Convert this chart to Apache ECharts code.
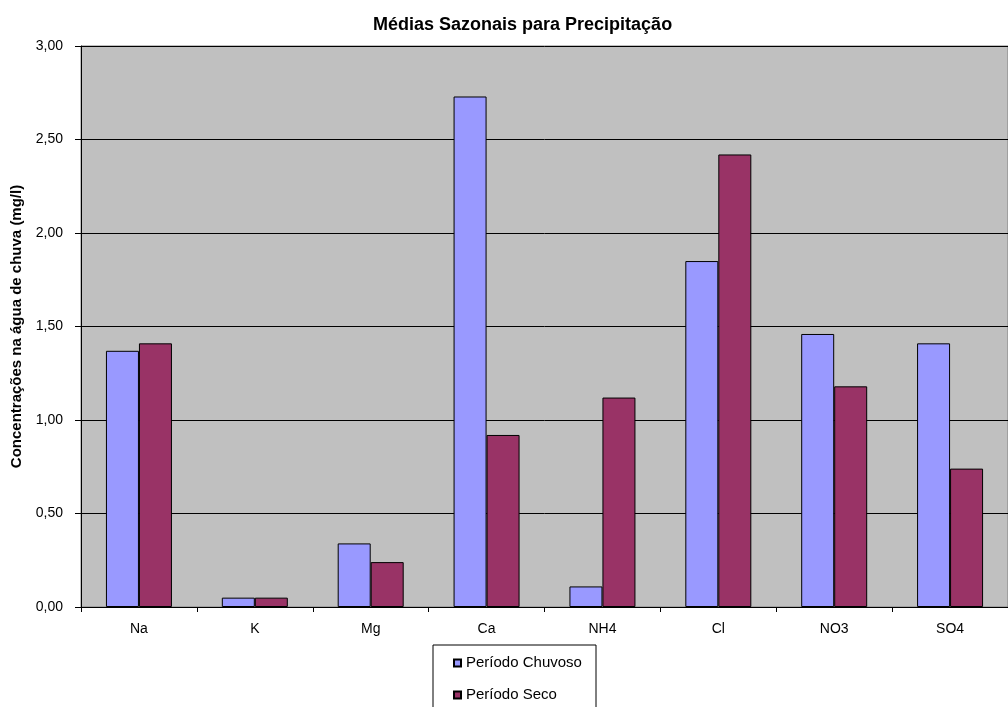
<!DOCTYPE html>
<html>
<head>
<meta charset="utf-8">
<script src="https://cdn.jsdelivr.net/npm/echarts@6/dist/echarts.min.js"></script>
<style>
  html, body { margin: 0; padding: 0; background: #ffffff; }
  #chart { width: 1008px; height: 707px; }
</style>
</head>
<body>
<div id="chart"></div>
<script>
// Seasonal mean ion concentrations in rainwater (mg/l)
const categories = ['Na', 'K', 'Mg', 'Ca', 'NH4', 'Cl', 'NO3', 'SO4'];
const chuvoso = [1.37, 0.05, 0.34, 2.73, 0.11, 1.85, 1.46, 1.41];
const seco = [1.41, 0.05, 0.24, 0.92, 1.12, 2.42, 1.18, 0.74];
const seriesNames = ['Período Chuvoso', 'Período Seco'];

const FONT = '"Liberation Sans", Arial, sans-serif';

const legendText = { fontFamily: FONT, fontSize: 15, color: '#000', lineHeight: 16 };
function legendFor(name, top) {
  return {
    data: [name],
    left: 453,
    top: top,
    padding: 0,
    itemWidth: 7,
    itemHeight: 7,
    icon: 'rect',
    z: 5,
    textStyle: legendText
  };
}

const chart = echarts.init(document.getElementById('chart'), null, { renderer: 'canvas' });

chart.setOption({
  backgroundColor: '#ffffff',
  animation: false,
  textStyle: { fontFamily: FONT, color: '#000' },
  title: {
    text: 'Médias Sazonais para Precipitação',
    left: 373,
    top: 16,
    padding: 0,
    textStyle: { fontFamily: FONT, fontSize: 18, fontWeight: 'bold', color: '#000' }
  },
  grid: {
    left: 81,
    top: 46,
    width: 936,
    height: 561,
    show: true,
    backgroundColor: '#C0C0C0',
    borderColor: '#808080',
    borderWidth: 1
  },
  // legend frame, open at the bottom edge of the page
  graphic: [{
    type: 'rect',
    z: 1,
    shape: { x: 433, y: 645, width: 163, height: 90 },
    style: { fill: '#ffffff', stroke: '#000000', lineWidth: 1 }
  }],
  legend: [legendFor(seriesNames[0], 655), legendFor(seriesNames[1], 687)],
  xAxis: {
    type: 'category',
    data: categories,
    axisLine: { lineStyle: { color: '#000', width: 1 } },
    axisTick: { show: true, length: 5, lineStyle: { color: '#000' } },
    axisLabel: { fontFamily: FONT, fontSize: 14, color: '#000', margin: 15 },
    splitLine: { show: false }
  },
  yAxis: {
    type: 'value',
    min: 0,
    max: 3,
    interval: 0.5,
    name: 'Concentrações na água de chuva (mg/l)',
    nameLocation: 'middle',
    nameRotate: 90,
    nameGap: 55,
    nameTextStyle: { fontFamily: FONT, fontSize: 15, fontWeight: 'bold', color: '#000' },
    axisLine: { show: true, lineStyle: { color: '#000', width: 1 } },
    axisTick: { show: true, length: 6, lineStyle: { color: '#000' } },
    axisLabel: {
      fontFamily: FONT, fontSize: 14, color: '#000', margin: 18,
      formatter: v => v.toFixed(2).replace('.', ',')
    },
    splitLine: { show: true, lineStyle: { color: '#000', width: 1 } }
  },
  series: [
    {
      name: seriesNames[0],
      type: 'bar',
      data: chuvoso,
      barWidth: 33,
      barGap: '0%',
      itemStyle: { color: '#9999FF', borderColor: '#000', borderWidth: 1 }
    },
    {
      name: seriesNames[1],
      type: 'bar',
      data: seco,
      barWidth: 33,
      barGap: '0%',
      itemStyle: { color: '#993366', borderColor: '#000', borderWidth: 1 }
    }
  ]
});
</script>
</body>
</html>
